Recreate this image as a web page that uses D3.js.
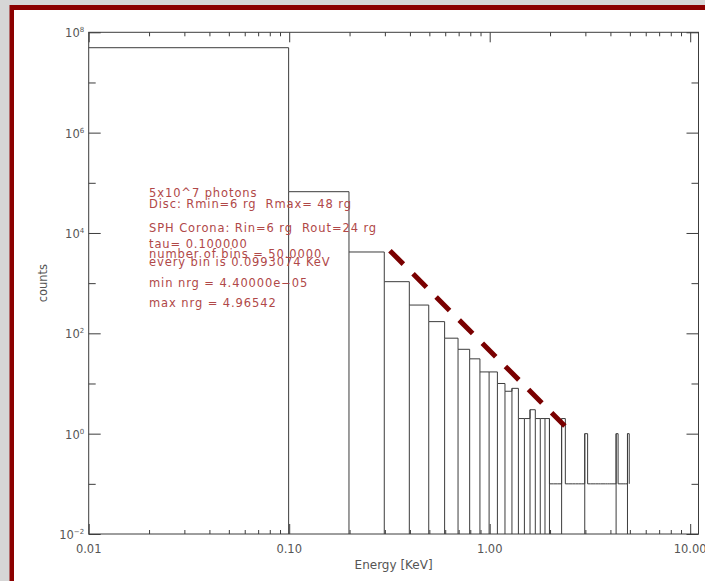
<!DOCTYPE html>
<html>
<head>
<meta charset="utf-8">
<script src="https://cdn.jsdelivr.net/npm/d3@7"></script>
<style>
  body { margin: 0; background: #d5d5d5; overflow: hidden; }
  text { font-family: 'DejaVu Sans', sans-serif; }
  text.note { white-space: pre; }
</style>
</head>
<body>
<div id="chart"></div>
<script>
// escaping photon spectrum, 50 linear bins
const binMin = 4.40000e-05
const binWidth = 0.0993074
const counts = [
  49300000, 66500, 4180, 1070, 366, 171, 80, 48, 31, 17,
  17, 10, 7, 8, 2, 2, 3, 2, 2, 2,
  0, 0, 0, 2, 0, 0, 0, 0, 0, 0,
  1, 0, 0, 0, 0, 0, 0, 0, 0, 0,
  0, 0, 0, 1, 0, 0, 0, 0, 0, 1
]
const zeroLevel = 0.1 // empty bins sit on this level

const xMajorTicks = [0.01, 0.1, 1, 10]
const xTickLabels = ['0.01', '0.10', '1.00', '10.00']
const yMajorExponents = [-2, 0, 2, 4, 6, 8]
const yMinorExponents = [-1, 1, 3, 5, 7]

// power law guide drawn over the tail
const guideLine = [[0.318, 4440], [2.37, 1.42]]

const notes = [
  '5x10^7 photons',
  'Disc: Rmin=6 rg  Rmax= 48 rg',
  'SPH Corona: Rin=6 rg  Rout=24 rg',
  'tau= 0.100000',
  'number of bins = 50.0000',
  'every bin is 0.0993074 KeV',
  'min nrg = 4.40000e\u221205',
  'max nrg = 4.96542'
]
const noteBaselines = [197, 207.7, 232.3, 247.7, 257.7, 265.7, 287.3, 307.3]

const W = 705, H = 581
const plot = { left: 88.7, right: 698.5, top: 32.3, bottom: 534 }
const lineColor = '#3c3c3c'
const labelColor = '#555'

const svg = d3.select('#chart')
  .append('svg')
  .attr('width', W)
  .attr('height', H)

// slide background + dark red frame
svg.append('rect').attr('width', W).attr('height', H).attr('fill', '#d6d6d6')
svg.append('rect')
  .attr('x', 9.5).attr('y', 5)
  .attr('width', W).attr('height', H)
  .attr('fill', '#8b0000')
svg.append('rect')
  .attr('x', 14).attr('y', 10)
  .attr('width', W).attr('height', H)
  .attr('fill', '#fff')

const x = d3.scaleLog().domain([0.01, 11]).range([plot.left, plot.right])
const y = d3.scaleLog().domain([1e-2, 1e8]).range([plot.bottom, plot.top])

const xMinorTicks = []
xMajorTicks.slice(0, 3).forEach(d => {
  for (let k = 2; k <= 9; k++) xMinorTicks.push(d * k)
})

svg.append('clipPath').attr('id', 'plot-clip')
  .append('rect')
  .attr('x', plot.left).attr('y', plot.top)
  .attr('width', plot.right - plot.left)
  .attr('height', plot.bottom - plot.top)

// ticks, all pointing into the plot
const tickGroup = (axis, tx, ty) => {
  const g = svg.append('g')
    .attr('transform', `translate(${tx},${ty})`)
    .call(axis)
  g.select('.domain').remove()
  g.selectAll('text').remove()
  g.selectAll('line').attr('stroke', lineColor)
  return g
}

tickGroup(d3.axisBottom(x).tickValues(xMajorTicks).tickSizeInner(-10).tickSizeOuter(0), 0, plot.bottom)
tickGroup(d3.axisBottom(x).tickValues(xMinorTicks).tickSizeInner(-4).tickSizeOuter(0), 0, plot.bottom)
tickGroup(d3.axisTop(x).tickValues(xMajorTicks).tickSizeInner(-10).tickSizeOuter(0), 0, plot.top)
tickGroup(d3.axisTop(x).tickValues(xMinorTicks).tickSizeInner(-4).tickSizeOuter(0), 0, plot.top)

const yMajor = yMajorExponents.map(e => Math.pow(10, e))
const yMinor = yMinorExponents.map(e => Math.pow(10, e))
tickGroup(d3.axisLeft(y).tickValues(yMajor).tickSizeInner(-12).tickSizeOuter(0), plot.left, 0)
tickGroup(d3.axisLeft(y).tickValues(yMinor).tickSizeInner(-7).tickSizeOuter(0), plot.left, 0)
tickGroup(d3.axisRight(y).tickValues(yMajor).tickSizeInner(-12).tickSizeOuter(0), plot.right, 0)
tickGroup(d3.axisRight(y).tickValues(yMinor).tickSizeInner(-7).tickSizeOuter(0), plot.right, 0)

svg.append('rect')
  .attr('x', plot.left).attr('y', plot.top)
  .attr('width', plot.right - plot.left)
  .attr('height', plot.bottom - plot.top)
  .attr('fill', 'none')
  .attr('stroke', lineColor)

// tick labels
svg.selectAll('text.x-label')
  .data(xMajorTicks)
  .enter()
  .append('text')
  .classed('x-label', true)
  .attr('x', d => x(d))
  .attr('y', plot.bottom + 19)
  .attr('text-anchor', 'middle')
  .attr('font-size', 11.5)
  .attr('fill', labelColor)
  .text((d, i) => xTickLabels[i])

const yLabels = svg.selectAll('text.y-label')
  .data(yMajorExponents)
  .enter()
  .append('text')
  .classed('y-label', true)
  .attr('x', plot.left - 4.5)
  .attr('y', d => y(Math.pow(10, d)) + 5)
  .attr('text-anchor', 'end')
  .attr('font-size', 11.5)
  .attr('fill', labelColor)
yLabels.append('tspan').text('10')
yLabels.append('tspan')
  .attr('font-size', 7)
  .attr('dy', -5)
  .text(d => d < 0 ? '\u2212' + (-d) : d)

svg.append('text')
  .attr('x', (plot.left + plot.right) / 2)
  .attr('y', 569)
  .attr('text-anchor', 'middle')
  .attr('font-size', 12)
  .attr('fill', labelColor)
  .text('Energy [KeV]')

svg.append('text')
  .attr('transform', `translate(47.3,${(plot.top + plot.bottom) / 2}) rotate(-90)`)
  .attr('text-anchor', 'middle')
  .attr('font-size', 11.5)
  .attr('fill', labelColor)
  .text('counts')

// histogram
const edge = k => binMin + k * binWidth
const stepPoints = []
counts.forEach((c, k) => {
  const v = Math.max(c, zeroLevel)
  stepPoints.push([edge(k), v], [edge(k + 1), v])
})
stepPoints.push([edge(counts.length), zeroLevel])

const hist = svg.append('g').attr('clip-path', 'url(#plot-clip)')

hist.append('path')
  .datum(stepPoints)
  .attr('fill', 'none')
  .attr('stroke', lineColor)
  .attr('d', d3.line().x(d => x(d[0])).y(d => y(d[1])))

// bar edges down to the axis: left edge of every filled bin,
// plus the closing edge of the long filled run
const drops = []
for (let k = 0; k <= counts.length; k++) {
  const c = counts[k] || 0
  if (c > 0) drops.push({ k, top: c })
  else if (counts[k - 1] > 0 && counts[k - 2] > 0) drops.push({ k, top: counts[k - 1] })
}

hist.selectAll('line.drop')
  .data(drops)
  .enter()
  .append('line')
  .classed('drop', true)
  .attr('x1', d => x(edge(d.k)))
  .attr('x2', d => x(edge(d.k)))
  .attr('y1', plot.bottom)
  .attr('y2', d => y(d.top))
  .attr('stroke', lineColor)

// annotation block
svg.selectAll('text.note')
  .data(notes)
  .enter()
  .append('text')
  .classed('note', true)
  .attr('x', 149)
  .attr('y', (d, i) => noteBaselines[i])
  .attr('font-size', 11.5)
  .attr('letter-spacing', '0.9px')
  .attr('fill', '#b04848')
  .text(d => d)

svg.append('path')
  .datum(guideLine)
  .attr('fill', 'none')
  .attr('stroke', '#7a0000')
  .attr('stroke-width', 5)
  .attr('stroke-dasharray', '19,13.7')
  .attr('d', d3.line().x(d => x(d[0])).y(d => y(d[1])))
</script>
</body>
</html>
